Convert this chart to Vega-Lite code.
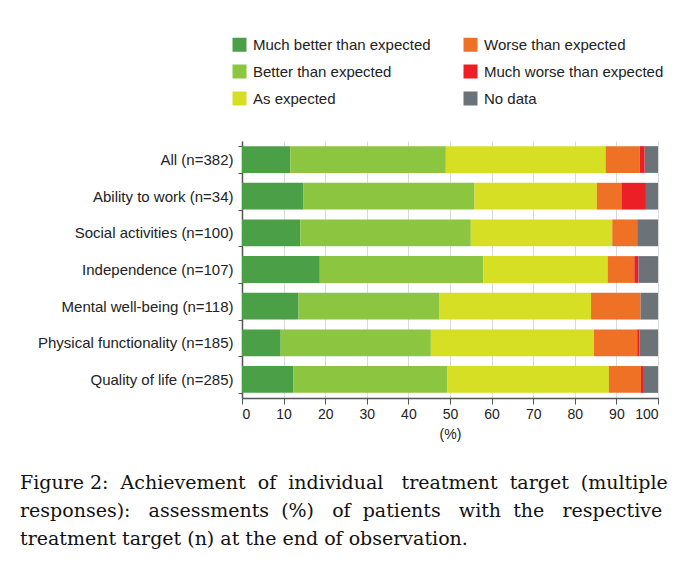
{
  "$schema": "https://vega.github.io/schema/vega-lite/v6.json",
  "width": 416,
  "height": 257,
  "autosize": {"type": "pad"},
  "padding": {"left": 20, "top": 37, "right": 0, "bottom": 5},
  "background": "white",
  "config": {"font": "Liberation Sans", "view": {"stroke": null}},
  "title": {
    "text": [
      "Figure 2: \u00a0Achievement \u00a0of \u00a0individual \u00a0\u00a0treatment \u00a0target \u00a0(multiple",
      "responses): \u00a0\u00a0assessments \u00a0(%) \u00a0\u00a0of \u00a0patients \u00a0\u00a0with \u00a0the \u00a0\u00a0respective",
      "treatment target (n) at the end of observation."
    ],
    "orient": "bottom",
    "anchor": "start",
    "frame": "group",
    "dx": -222,
    "offset": 33,
    "font": "DejaVu Serif",
    "fontSize": 19,
    "fontWeight": "normal",
    "color": "#111",
    "lineHeight": 28
  },
  "data": {
    "values": [
      {"target": "All (n=382)", "response": "Much better than expected", "rank": 1, "pct": 11.6},
      {"target": "All (n=382)", "response": "Better than expected", "rank": 2, "pct": 37.4},
      {"target": "All (n=382)", "response": "As expected", "rank": 3, "pct": 38.4},
      {"target": "All (n=382)", "response": "Worse than expected", "rank": 4, "pct": 8.2},
      {"target": "All (n=382)", "response": "Much worse than expected", "rank": 5, "pct": 1.2},
      {"target": "All (n=382)", "response": "No data", "rank": 6, "pct": 3.2},
      {"target": "Ability to work (n=34)", "response": "Much better than expected", "rank": 1, "pct": 14.7},
      {"target": "Ability to work (n=34)", "response": "Better than expected", "rank": 2, "pct": 41.2},
      {"target": "Ability to work (n=34)", "response": "As expected", "rank": 3, "pct": 29.4},
      {"target": "Ability to work (n=34)", "response": "Worse than expected", "rank": 4, "pct": 5.9},
      {"target": "Ability to work (n=34)", "response": "Much worse than expected", "rank": 5, "pct": 5.9},
      {"target": "Ability to work (n=34)", "response": "No data", "rank": 6, "pct": 2.9},
      {"target": "Social activities (n=100)", "response": "Much better than expected", "rank": 1, "pct": 14},
      {"target": "Social activities (n=100)", "response": "Better than expected", "rank": 2, "pct": 41},
      {"target": "Social activities (n=100)", "response": "As expected", "rank": 3, "pct": 34},
      {"target": "Social activities (n=100)", "response": "Worse than expected", "rank": 4, "pct": 6},
      {"target": "Social activities (n=100)", "response": "Much worse than expected", "rank": 5, "pct": 0},
      {"target": "Social activities (n=100)", "response": "No data", "rank": 6, "pct": 5},
      {"target": "Independence (n=107)", "response": "Much better than expected", "rank": 1, "pct": 18.7},
      {"target": "Independence (n=107)", "response": "Better than expected", "rank": 2, "pct": 39.3},
      {"target": "Independence (n=107)", "response": "As expected", "rank": 3, "pct": 29.9},
      {"target": "Independence (n=107)", "response": "Worse than expected", "rank": 4, "pct": 6.4},
      {"target": "Independence (n=107)", "response": "Much worse than expected", "rank": 5, "pct": 1.0},
      {"target": "Independence (n=107)", "response": "No data", "rank": 6, "pct": 4.7},
      {"target": "Mental well-being (n=118)", "response": "Much better than expected", "rank": 1, "pct": 13.6},
      {"target": "Mental well-being (n=118)", "response": "Better than expected", "rank": 2, "pct": 33.9},
      {"target": "Mental well-being (n=118)", "response": "As expected", "rank": 3, "pct": 36.4},
      {"target": "Mental well-being (n=118)", "response": "Worse than expected", "rank": 4, "pct": 11.9},
      {"target": "Mental well-being (n=118)", "response": "Much worse than expected", "rank": 5, "pct": 0},
      {"target": "Mental well-being (n=118)", "response": "No data", "rank": 6, "pct": 4.2},
      {"target": "Physical functionality (n=185)", "response": "Much better than expected", "rank": 1, "pct": 9.3},
      {"target": "Physical functionality (n=185)", "response": "Better than expected", "rank": 2, "pct": 36.1},
      {"target": "Physical functionality (n=185)", "response": "As expected", "rank": 3, "pct": 39.2},
      {"target": "Physical functionality (n=185)", "response": "Worse than expected", "rank": 4, "pct": 10.4},
      {"target": "Physical functionality (n=185)", "response": "Much worse than expected", "rank": 5, "pct": 0.5},
      {"target": "Physical functionality (n=185)", "response": "No data", "rank": 6, "pct": 4.5},
      {"target": "Quality of life (n=285)", "response": "Much better than expected", "rank": 1, "pct": 12.3},
      {"target": "Quality of life (n=285)", "response": "Better than expected", "rank": 2, "pct": 37.1},
      {"target": "Quality of life (n=285)", "response": "As expected", "rank": 3, "pct": 38.8},
      {"target": "Quality of life (n=285)", "response": "Worse than expected", "rank": 4, "pct": 7.7},
      {"target": "Quality of life (n=285)", "response": "Much worse than expected", "rank": 5, "pct": 0.7},
      {"target": "Quality of life (n=285)", "response": "No data", "rank": 6, "pct": 3.4}
    ]
  },
  "mark": {"type": "bar"},
  "encoding": {
    "y": {
      "field": "target",
      "type": "nominal",
      "sort": ["All (n=382)", "Ability to work (n=34)", "Social activities (n=100)", "Independence (n=107)", "Mental well-being (n=118)", "Physical functionality (n=185)", "Quality of life (n=285)"],
      "scale": {"paddingInner": 0.27, "paddingOuter": 0.14},
      "axis": {
        "title": null,
        "labelFontSize": 15,
        "labelColor": "#222",
        "labelLimit": 300,
        "tickBand": "extent",
        "tickSize": 4,
        "tickColor": "#555",
        "domainColor": "#555",
        "domainWidth": 1.5,
        "labelPadding": 5
      }
    },
    "x": {
      "field": "pct",
      "type": "quantitative",
      "stack": "zero",
      "scale": {"domain": [0, 100], "nice": false},
      "axis": {
        "title": "(%)",
        "values": [0, 10, 20, 30, 40, 50, 60, 70, 80, 90, 100],
        "tickSize": 6,
        "tickColor": "#555",
        "domainColor": "#555",
        "domainWidth": 1.5,
        "grid": true,
        "gridColor": "#d9d9d9",
        "labelFontSize": 14,
        "labelColor": "#222",
        "labelPadding": 3,
        "titleFontSize": 14,
        "titleFontWeight": "normal",
        "titleColor": "#222",
        "titlePadding": 6
      }
    },
    "color": {
      "field": "response",
      "type": "nominal",
      "scale": {
        "domain": ["Much better than expected", "Better than expected", "As expected", "Worse than expected", "Much worse than expected", "No data"],
        "range": ["#4b9f46", "#8cc540", "#d6df24", "#ee7125", "#ec1f27", "#6c7378"]
      },
      "legend": {
        "title": null,
        "orient": "none",
        "legendX": -10,
        "legendY": -104,
        "columns": 2,
        "columnPadding": 32,
        "rowPadding": 11,
        "symbolType": "square",
        "symbolSize": 196,
        "symbolStrokeWidth": 0,
        "symbolOpacity": 1,
        "labelFontSize": 15,
        "labelColor": "#222",
        "labelOffset": 6,
        "labelLimit": 300
      }
    },
    "order": {"field": "rank", "type": "quantitative"}
  }
}
